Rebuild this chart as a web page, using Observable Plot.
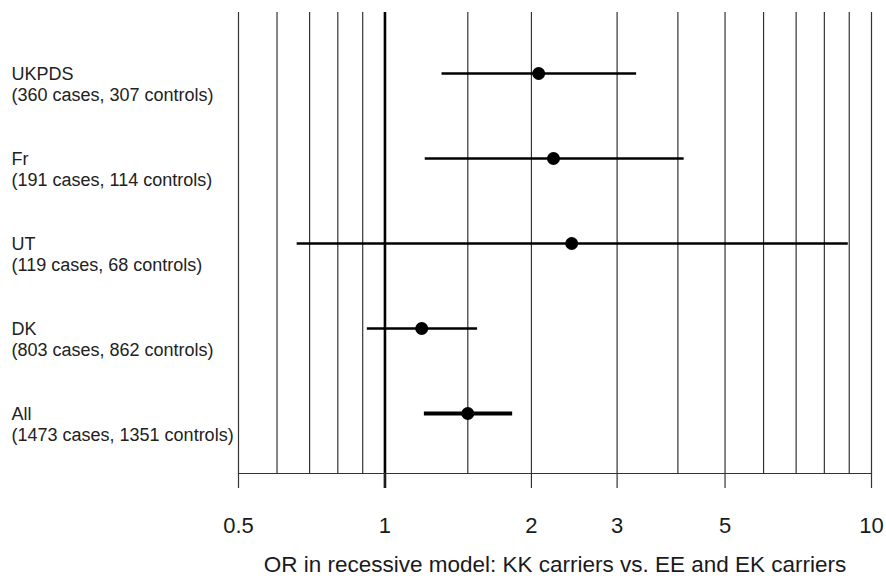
<!DOCTYPE html>
<html>
<head>
<meta charset="utf-8">
<script src="https://cdn.jsdelivr.net/npm/d3@7"></script>
<script src="https://cdn.jsdelivr.net/npm/@observablehq/plot@0.6"></script>
<style>
  html, body { margin: 0; padding: 0; background: #fff; }
  #chart svg { display: block; }
</style>
</head>
<body>
<div id="chart"></div>
<script>
// ---- data ----
const studies = ["UKPDS", "Fr", "UT", "DK", "All"];
const sampleLabels = [
  "(360 cases, 307 controls)",
  "(191 cases, 114 controls)",
  "(119 cases, 68 controls)",
  "(803 cases, 862 controls)",
  "(1473 cases, 1351 controls)"
];
const orValues = [2.07, 2.22, 2.42, 1.19, 1.48];
const ciLow = [1.31, 1.21, 0.66, 0.92, 1.205];
const ciHigh = [3.29, 4.12, 8.96, 1.55, 1.83];
const gridValues = [0.5, 0.6, 0.7, 0.8, 0.9, 1.48, 2, 3, 4, 5, 6, 7, 8, 9, 10];
const tickValues = [0.5, 1, 2, 3, 5, 10];
const tickLabels = ["0.5", "1", "2", "3", "5", "10"];
const xTitle = "OR in recessive model: KK carriers vs. EE and EK carriers";

const rows = studies.map((s, i) => ({
  study: s,
  label: s + "\n" + sampleLabels[i],
  or: orValues[i],
  lo: ciLow[i],
  hi: ciHigh[i],
  pooled: s === "All"
}));

const chart = Plot.plot({
  width: 886,
  height: 578,
  marginLeft: 238,
  marginRight: 15,
  marginTop: 12,
  marginBottom: 105,
  style: { fontFamily: "'Liberation Sans', Arial, Helvetica, sans-serif", background: "#fff", color: "#111" },
  x: { type: "log", domain: [0.5, 10] },
  y: { type: "point", domain: studies, padding: 0.71, axis: null },
  marks: [
    Plot.ruleX(gridValues, { stroke: "#333", strokeWidth: 1.2 }),
    Plot.ruleX([1], { stroke: "#000", strokeWidth: 2.6, insetBottom: -15 }),
    Plot.frame({ anchor: "bottom", stroke: "#333", strokeWidth: 1.2 }),
    Plot.axisX({
      ticks: tickValues,
      tickFormat: (d) => tickLabels[tickValues.indexOf(d)],
      tickSize: 15,
      tickPadding: 29,
      fontSize: 22,
      stroke: "#333",
      strokeWidth: 1.2,
      fill: "#1a1a1a",
      label: null
    }),
    Plot.ruleY(rows, {
      y: "study", x1: "lo", x2: "hi",
      stroke: "#000",
      strokeWidth: (d) => (d.pooled ? 4 : 2.6)
    }),
    Plot.dot(rows, { y: "study", x: "or", r: 6.5, fill: "#000", stroke: "none" }),
    Plot.text(rows, {
      y: "study", text: "label",
      frameAnchor: "left", dx: -227, dy: 10,
      textAnchor: "start", lineHeight: 1.2,
      fontSize: 18, fill: "#222"
    }),
    Plot.text([xTitle], {
      frameAnchor: "bottom", dy: 98,
      textAnchor: "middle", lineAnchor: "bottom",
      fontSize: 22.5, fill: "#1a1a1a"
    })
  ]
});
document.getElementById("chart").append(chart);
</script>
</body>
</html>
